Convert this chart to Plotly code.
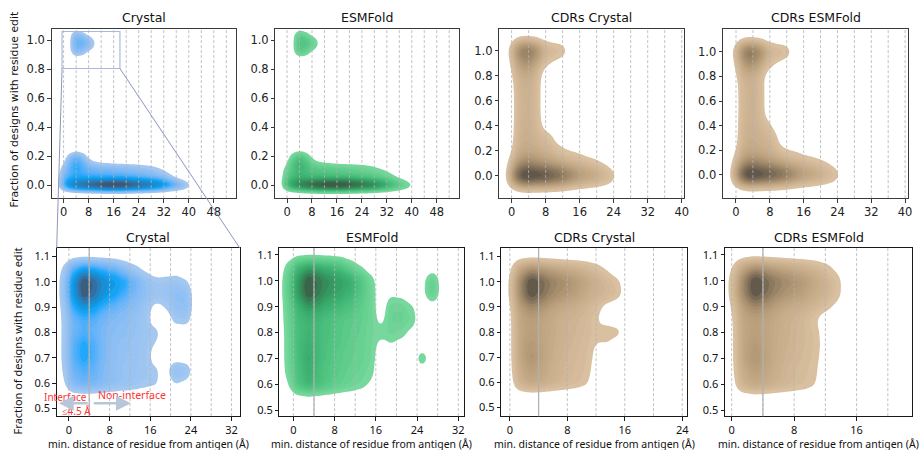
import math
import numpy as np
import plotly.graph_objects as go

# ======================= DATA =======================
# Binned residue counts (rows = fraction of designs with edit, cols = distance to antigen, Å)
top_all_x = [0, 2, 4, 6, 8, 10, 12, 14, 16, 18, 20, 22, 24, 26, 28, 30, 32, 34, 36, 38, 40]
top_all_y = [0.00, 0.04, 0.08, 0.12, 0.16, 0.20, 0.92, 0.96, 1.00, 1.04]
crystal_all_counts = [
    [3, 6, 8, 9, 10, 11, 12, 13, 13, 13, 12, 11, 10, 9, 8, 7, 5.5, 4, 3, 2, 1],
    [2, 3, 3.2, 3, 3, 3, 3, 3, 3, 3, 3, 2.8, 2.6, 2.4, 2.2, 2, 1.6, 1.1, 0.6, 0.2, 0],
    [1.6, 2.4, 2.8, 2.6, 2.4, 2.3, 2.2, 2.2, 2.1, 2.0, 1.9, 1.8, 1.7, 1.6, 1.4, 1.2, 0.9, 0.5, 0, 0, 0],
    [0.9, 2.4, 3.2, 2.6, 2.0, 1.8, 1.7, 1.7, 1.6, 1.5, 1.4, 1.3, 1.2, 1.0, 0.8, 0.6, 0.3, 0, 0, 0, 0],
    [0.2, 2.0, 3.0, 2.2, 0.9, 0.4, 0.2, 0.1, 0, 0, 0, 0, 0, 0, 0, 0, 0, 0, 0, 0, 0],
    [0, 1.0, 2.2, 1.2, 0.2, 0, 0, 0, 0, 0, 0, 0, 0, 0, 0, 0, 0, 0, 0, 0, 0],
    [0, 0.2, 1.8, 1.2, 0.2, 0, 0, 0, 0, 0, 0, 0, 0, 0, 0, 0, 0, 0, 0, 0, 0],
    [0, 0.2, 2.3, 2.1, 1.5, 0.5, 0, 0, 0, 0, 0, 0, 0, 0, 0, 0, 0, 0, 0, 0, 0],
    [0, 0.2, 2.4, 2.2, 1.6, 0.5, 0, 0, 0, 0, 0, 0, 0, 0, 0, 0, 0, 0, 0, 0, 0],
    [0, 0.2, 1.8, 1.0, 0.1, 0, 0, 0, 0, 0, 0, 0, 0, 0, 0, 0, 0, 0, 0, 0, 0],
]
esmfold_all_counts = [
    [3, 6, 8, 9.5, 11, 12, 13, 13.5, 13.5, 13, 12, 11, 10, 9, 8, 6.5, 5, 3.5, 2.5, 1.5, 0.8],
    [2, 3, 3.4, 3.2, 3, 3, 3, 3, 3, 3, 3, 2.8, 2.5, 2.2, 2, 1.8, 1.4, 1, 0.5, 0.2, 0],
    [1.6, 2.4, 3.0, 2.7, 2.4, 2.3, 2.2, 2.1, 2.0, 1.9, 1.8, 1.7, 1.6, 1.5, 1.3, 1.1, 0.8, 0.4, 0, 0, 0],
    [0.9, 2.4, 3.4, 2.8, 2.0, 1.8, 1.7, 1.6, 1.5, 1.4, 1.3, 1.2, 1.1, 0.9, 0.7, 0.4, 0.2, 0, 0, 0, 0],
    [0.2, 2.2, 3.2, 2.3, 0.9, 0.4, 0.2, 0.1, 0, 0, 0, 0, 0, 0, 0, 0, 0, 0, 0, 0, 0],
    [0, 1.1, 2.4, 1.3, 0.2, 0, 0, 0, 0, 0, 0, 0, 0, 0, 0, 0, 0, 0, 0, 0, 0],
    [0, 0.2, 2.0, 1.3, 0.2, 0, 0, 0, 0, 0, 0, 0, 0, 0, 0, 0, 0, 0, 0, 0, 0],
    [0, 0.2, 2.4, 2.1, 1.4, 0.5, 0, 0, 0, 0, 0, 0, 0, 0, 0, 0, 0, 0, 0, 0, 0],
    [0, 0.2, 2.4, 2.2, 1.5, 0.5, 0, 0, 0, 0, 0, 0, 0, 0, 0, 0, 0, 0, 0, 0, 0],
    [0, 0.2, 1.8, 1.0, 0.1, 0, 0, 0, 0, 0, 0, 0, 0, 0, 0, 0, 0, 0, 0, 0, 0],
]

cdr_all_x = [0, 1.5, 3, 4.5, 6, 7.5, 9, 10.5, 12, 13.5, 15, 16.5, 18, 19.5, 21, 22.5, 24]
cdr_all_y = [0.0, 0.1, 0.2, 0.3, 0.4, 0.5, 0.6, 0.7, 0.8, 0.9, 1.0]
cdr_crystal_all_counts = [
    [3, 8, 11, 11, 10, 10, 9, 8, 7, 5.5, 4.4, 3.6, 3, 2.5, 2, 1.4, 0.8],
    [1, 3, 4, 4, 3.5, 3, 2.6, 2.2, 1.8, 1.5, 1.3, 1.1, 0.9, 0.7, 0.4, 0.2, 0],
    [0.3, 1.6, 2.1, 2.0, 1.8, 1.5, 1.3, 0.9, 0.6, 0.4, 0.3, 0.2, 0, 0, 0, 0, 0],
    [0.1, 1.3, 1.8, 1.7, 1.4, 1.1, 0.8, 0.2, 0, 0, 0, 0, 0, 0, 0, 0, 0],
    [0, 1.3, 1.6, 1.6, 1.1, 0.2, 0, 0, 0, 0, 0, 0, 0, 0, 0, 0, 0],
    [0, 1.2, 1.5, 1.5, 1.0, 0, 0, 0, 0, 0, 0, 0, 0, 0, 0, 0, 0],
    [0, 1.2, 1.5, 1.5, 1.0, 0, 0, 0, 0, 0, 0, 0, 0, 0, 0, 0, 0],
    [0, 1.3, 1.6, 1.6, 1.0, 0, 0, 0, 0, 0, 0, 0, 0, 0, 0, 0, 0],
    [0.2, 1.5, 1.8, 1.8, 1.0, 0.1, 0, 0, 0, 0, 0, 0, 0, 0, 0, 0, 0],
    [0.5, 2.4, 3.4, 3.2, 1.9, 0.7, 0.4, 0.2, 0, 0, 0, 0, 0, 0, 0, 0, 0],
    [1.0, 4.4, 6.2, 5.8, 4.2, 2.0, 1.4, 1.2, 1.0, 0.3, 0, 0, 0, 0, 0, 0, 0],
]
cdr_esmfold_all_counts = [
    [3, 8, 11.5, 11, 10, 9.5, 8.5, 7.5, 6.5, 5, 4, 3.3, 2.8, 2.3, 1.8, 1.3, 0.8],
    [1, 3, 4, 4, 3.5, 3, 2.6, 2.1, 1.7, 1.4, 1.2, 1.0, 0.8, 0.6, 0.4, 0.2, 0],
    [0.3, 1.6, 2.1, 2.0, 1.8, 1.6, 1.3, 0.6, 0.4, 0.3, 0.2, 0, 0, 0, 0, 0, 0],
    [0.1, 1.3, 1.8, 1.7, 1.5, 1.4, 0.9, 0.1, 0, 0, 0, 0, 0, 0, 0, 0, 0],
    [0, 1.3, 1.6, 1.6, 1.2, 0.8, 0.2, 0, 0, 0, 0, 0, 0, 0, 0, 0, 0],
    [0, 1.2, 1.5, 1.5, 0.9, 0, 0, 0, 0, 0, 0, 0, 0, 0, 0, 0, 0],
    [0, 1.2, 1.5, 1.5, 0.9, 0, 0, 0, 0, 0, 0, 0, 0, 0, 0, 0, 0],
    [0, 1.2, 1.5, 1.5, 0.9, 0, 0, 0, 0, 0, 0, 0, 0, 0, 0, 0, 0],
    [0.2, 1.4, 1.7, 1.6, 0.8, 0, 0, 0, 0, 0, 0, 0, 0, 0, 0, 0, 0],
    [0.5, 2.4, 3.6, 3.2, 1.9, 0.8, 0.4, 0.2, 0, 0, 0, 0, 0, 0, 0, 0, 0],
    [1.0, 4.4, 6.6, 5.8, 4.2, 2.0, 1.4, 1.2, 1.0, 0.3, 0, 0, 0, 0, 0, 0, 0],
]

hi_y = [0.60, 0.65, 0.70, 0.75, 0.80, 0.85, 0.90, 0.95, 1.00, 1.05]
crystal_hi_x = [-1, 1, 3, 5, 7, 9, 11, 13, 15, 17, 19, 21, 23]
crystal_hi_counts = [
    [0.4, 2.2, 2.6, 2.4, 2, 1.6, 1.4, 1.2, 0.9, 0.8, 0, 0.6, 0.3],
    [0.6, 2.5, 3, 2.5, 1.8, 1.4, 1.2, 1.1, 1, 0.8, 0.2, 1.8, 1.4],
    [0.7, 3, 4, 3, 2, 1.5, 1.3, 1.2, 1, 0.2, 0, 0, 0],
    [0.7, 3, 4, 3, 2, 1.5, 1.4, 1.2, 1, 0.5, 0, 0, 0],
    [0.7, 2.5, 3, 2.5, 2, 1.6, 1.5, 1.3, 1.1, 1.0, 0, 0, 0],
    [0.7, 2.5, 3, 2.8, 2.2, 1.8, 1.6, 1.3, 1, 0, 0, 0.9, 1.0],
    [0.8, 3.5, 5, 4, 3, 2.5, 2, 1.6, 1.2, 0.2, 0.6, 1.4, 1.6],
    [1.0, 5, 11, 8, 5, 4, 3, 2, 1.5, 1.2, 1.2, 1.6, 1.6],
    [1.0, 5, 12, 9, 6, 5, 4, 2.5, 1.5, 0.9, 1.0, 1.2, 0.7],
    [0.7, 3, 4, 3.5, 3, 2.5, 1.5, 0.8, 0.3, 0, 0, 0, 0],
]
esmfold_hi_x = [-1, 1, 3, 5, 7, 9, 11, 13, 15, 17, 19, 21, 23, 25, 27]
esmfold_hi_counts = [
    [0.5, 3.2, 4.4, 3.4, 2.6, 1.9, 1.5, 1.1, 0.6, 0, 0, 0, 0, 0, 0],
    [1.0, 3, 4.5, 3.2, 2.5, 2, 1.6, 1.4, 1.0, 0, 0, 0, 0, 0, 0],
    [1.1, 3.5, 5, 3.5, 2.8, 2.2, 1.8, 1.5, 1.2, 0, 0, 0, 0, 1.6, 0],
    [1.1, 3.5, 4.5, 3.5, 2.8, 2.3, 2, 1.6, 1.2, 0.3, 0.6, 0.3, 0, 0, 0],
    [1.1, 3.5, 4, 3.5, 3, 2.5, 2, 1.7, 1.2, 1.0, 1.3, 1.0, 0.4, 0, 0],
    [1.3, 3.5, 4, 3.5, 3, 2.5, 2.2, 1.8, 1.3, 0.3, 1.5, 1.6, 1.2, 0, 0],
    [1.4, 4, 6, 5, 4, 3.5, 3, 2, 1.3, 0, 1.5, 1.4, 0.8, 0, 0],
    [1.7, 6, 12, 8, 6, 5, 4, 2.5, 1.3, 0, 0.5, 0.3, 0, 0.3, 2.0],
    [1.7, 6, 13, 9, 7, 6, 5, 3, 1.2, 0, 0, 0, 0, 0.3, 2.0],
    [1.1, 4, 5, 4.5, 4, 3.2, 1.6, 0.6, 0, 0, 0, 0, 0, 0, 0],
]
cdr_crystal_hi_x = [0, 1.5, 3, 4.5, 6, 7.5, 9, 10.5, 12, 13.5, 15]
cdr_crystal_hi_counts = [
    [0.1, 2.2, 3, 2.6, 2.1, 1.7, 1.4, 1.0, 0.2, 0, 0],
    [0.2, 2.5, 3.5, 2.8, 2.1, 1.6, 1.4, 1.1, 0.4, 0, 0],
    [0.2, 3, 4.5, 3.2, 2.3, 1.8, 1.5, 1.2, 0.5, 0, 0],
    [0.2, 3, 4, 3, 2.4, 1.9, 1.6, 1.3, 0.6, 0.6, 0],
    [0.2, 3, 3.5, 3, 2.5, 2, 1.7, 1.4, 1.0, 1.5, 1.2],
    [0.2, 3, 3.5, 3, 2.5, 2, 1.8, 1.5, 0.8, 0, 0],
    [0.3, 3.5, 5, 4, 3, 2.5, 2.2, 1.8, 1.2, 0.2, 0],
    [0.5, 5, 11, 7, 5, 4, 3.5, 2.5, 2, 1.8, 1.2],
    [0.5, 5, 12, 8, 6, 5, 4, 3, 2.2, 1.5, 1.0],
    [0.3, 3, 4, 3.5, 3, 2.5, 2.2, 1.8, 1.2, 0.6, 0],
]
cdr_esmfold_hi_x = [0, 1.5, 3, 4.5, 6, 7.5, 9, 10.5, 12, 13.5]
cdr_esmfold_hi_counts = [
    [0.2, 2.2, 3, 2.6, 2.1, 1.7, 1.4, 1.0, 0, 0],
    [0.3, 2.5, 3.5, 2.8, 2.1, 1.6, 1.4, 1.1, 0.1, 0],
    [0.3, 3, 4.5, 3.2, 2.3, 1.8, 1.5, 1.2, 0.3, 0],
    [0.3, 3, 4, 3, 2.4, 1.9, 1.6, 1.3, 0.4, 0],
    [0.3, 3, 3.5, 3, 2.5, 2, 1.6, 1.3, 0.3, 0],
    [0.4, 3, 3.5, 3, 2.5, 2, 1.6, 1.0, 0, 0],
    [0.6, 3.5, 5, 4, 3, 2.5, 2.2, 1.8, 1.2, 0.5],
    [0.9, 5, 11, 7, 5, 4, 3.5, 2.5, 2, 1.2],
    [0.9, 5, 12, 8, 6, 5, 4, 3, 2, 1.2],
    [0.6, 3, 4, 3.5, 3, 2.5, 2.2, 1.8, 1.2, 0.5],
]

panel_titles = ["Crystal", "ESMFold", "CDRs Crystal", "CDRs ESMFold",
                "Crystal", "ESMFold", "CDRs Crystal", "CDRs ESMFold"]
kde_bw_x = [1.2, 1.2, 0.9, 0.9, 1.0, 1.0, 0.8, 0.8]
kde_bw_y = [0.027, 0.027, 0.058, 0.058, 0.028, 0.028, 0.028, 0.028]
seed_crystal, seed_esmfold, seed_cdr = "#12a0f0", "#3cb371", "#d2b48c"

xticks_top_wide = [0, 8, 16, 24, 32, 40, 48]
xticks_top_cdr = [0, 8, 16, 24, 32, 40]
xticks_bot_wide = [0, 8, 16, 24, 32]
xticks_bot_cdr = [0, 8, 16, 24]
xticks_bot_cdr2 = [0, 8, 16]
yticks_top = [0.0, 0.2, 0.4, 0.6, 0.8, 1.0]
yticks_bot = [0.5, 0.6, 0.7, 0.8, 0.9, 1.0, 1.1]
ylabel = "Fraction of designs with residue edit"
xlabel = "min. distance of residue from antigen (Å)"
N_LEVELS = 20
THRESH = 0.05

# ======================= HUSL (seaborn colormap from colour) =======================
_M = [[3.2406, -1.5372, -0.4986], [-0.9689, 1.8758, 0.0415], [0.0557, -0.2040, 1.0570]]
_M_INV = [[0.4124, 0.3576, 0.1805], [0.2126, 0.7152, 0.0722], [0.0193, 0.1192, 0.9505]]
_REF_U, _REF_V, _LAB_E, _LAB_K = 0.19784, 0.46834, 0.008856, 903.3


def _max_chroma(L, H):
    hrad = math.radians(H)
    sinH, cosH = math.sin(hrad), math.cos(hrad)
    sub1 = (L + 16) ** 3 / 1560896.0
    sub2 = sub1 if sub1 > _LAB_E else L / _LAB_K
    result = float("inf")
    for m1, m2, m3 in _M:
        top = (0.99915 * m1 + 1.05122 * m2 + 1.14460 * m3) * sub2
        rbottom = 0.86330 * m3 - 0.17266 * m2
        lbottom = 0.12949 * m3 - 0.38848 * m1
        bottom = (rbottom * sinH + lbottom * cosH) * sub2
        for t in (0.0, 1.0):
            C = L * (top - 1.05122 * t) / (bottom + 0.17266 * sinH * t)
            if 0.0 < C < result:
                result = C
    return result


def husl_to_rgb(h, s, l):
    if l > 99.9999999:
        return [1.0, 1.0, 1.0]
    if l < 1e-8:
        return [0.0, 0.0, 0.0]
    C = _max_chroma(l, h) / 100.0 * s
    hr = math.radians(h)
    U, V = math.cos(hr) * C, math.sin(hr) * C
    t = (l + 16.0) / 116.0
    Y = t ** 3 if t ** 3 > _LAB_E else (116.0 * t - 16.0) / _LAB_K
    varU = U / (13.0 * l) + _REF_U
    varV = V / (13.0 * l) + _REF_V
    X = 0.0 - (9.0 * Y * varU) / ((varU - 4.0) * varV - varU * varV)
    Z = (9.0 * Y - 15.0 * varV * Y - varV * X) / (3.0 * varV)
    out = []
    for row in _M:
        c = row[0] * X + row[1] * Y + row[2] * Z
        c = 12.92 * c if c <= 0.0031308 else 1.055 * c ** (1 / 2.4) - 0.055
        out.append(c)
    return out


def rgb_to_husl(r, g, b):
    lin = [c / 12.92 if c <= 0.04045 else ((c + 0.055) / 1.055) ** 2.4 for c in (r, g, b)]
    X, Y, Z = [sum(row[i] * lin[i] for i in range(3)) for row in _M_INV]
    den = X + 15 * Y + 3 * Z
    varU, varV = 4 * X / den, 9 * Y / den
    fy = Y ** (1 / 3) if Y > _LAB_E else 7.787 * Y + 16 / 116
    L = 116 * fy - 16
    U, V = 13 * L * (varU - _REF_U), 13 * L * (varV - _REF_V)
    C = math.hypot(U, V)
    H = math.degrees(math.atan2(V, U)) % 360
    S = C / _max_chroma(L, H) * 100
    return H, S, L


def seaborn_ramp(seed):
    r, g, b = [int(seed[i:i + 2], 16) / 255 for i in (1, 3, 5)]
    h, s, _ = rgb_to_husl(r, g, b)
    xx = np.linspace(-1, 1, int(1.15 * 256))[:256]
    ls = np.linspace(35, 80, 256)
    cols = np.clip([husl_to_rgb(h, s * math.cos(x), l) for x, l in zip(xx, ls)], 0, 1)
    return cols[::-1]


def ramp_color(cols, t):
    i = int(np.clip(math.floor(t * 256), 0, 255))
    r, g, b = (cols[i] * 255).round().astype(int)
    return f"rgb({r},{g},{b})"


# ======================= KDE =======================
def kde_density(xs, ys, counts, bwx, bwy, gx, gy):
    px, py, pw = [], [], []
    for yv, row in zip(ys, counts):
        for xv, c in zip(xs, row):
            if c > 0:
                px.append(xv); py.append(yv); pw.append(c)
    px, py, pw = np.array(px, float), np.array(py, float), np.array(pw, float)
    kx = np.exp(-0.5 * ((gx[None, :] - px[:, None]) / bwx) ** 2)
    ky = np.exp(-0.5 * ((gy[None, :] - py[:, None]) / bwy) ** 2)
    return (ky * pw[:, None]).T @ kx


# ======================= LAYOUT GEOMETRY =======================
W, H = 922, 450


def xdom(l, r):
    return [l / W, r / W]


def ydom(t, b):
    return [1 - b / H, 1 - t / H]


panels = [
    dict(xs=top_all_x, ys=top_all_y, counts=crystal_all_counts, seed=seed_crystal,
         xr=[-3.8, 55], yr=[-0.09, 1.08], xt=xticks_top_wide, yt=yticks_top,
         grid=list(range(0, 53, 4)), dx=xdom(52, 237), dy=ydom(28, 198), top=True),
    dict(xs=top_all_x, ys=top_all_y, counts=esmfold_all_counts, seed=seed_esmfold,
         xr=[-3.7, 55.3], yr=[-0.09, 1.08], xt=xticks_top_wide, yt=yticks_top,
         grid=list(range(0, 53, 4)), dx=xdom(277, 462), dy=ydom(28, 198), top=True),
    dict(xs=cdr_all_x, ys=cdr_all_y, counts=cdr_crystal_all_counts, seed=seed_cdr,
         xr=[-2.9, 40.6], yr=[-0.177, 1.175], xt=xticks_top_cdr, yt=yticks_top,
         grid=list(range(0, 41, 4)), dx=xdom(502, 688), dy=ydom(28, 198), top=True),
    dict(xs=cdr_all_x, ys=cdr_all_y, counts=cdr_esmfold_all_counts, seed=seed_cdr,
         xr=[-3.06, 40.7], yr=[-0.19, 1.187], xt=xticks_top_cdr, yt=yticks_top,
         grid=list(range(0, 41, 4)), dx=xdom(727, 913), dy=ydom(28, 198), top=True),
    dict(xs=crystal_hi_x, ys=hi_y, counts=crystal_hi_counts, seed=seed_crystal,
         xr=[-2.4, 33.6], yr=[0.47, 1.134], xt=xticks_bot_wide, yt=yticks_bot,
         grid=list(range(0, 33, 4)), dx=xdom(57, 241), dy=ydom(248, 417), top=False),
    dict(xs=esmfold_hi_x, ys=hi_y, counts=esmfold_hi_counts, seed=seed_esmfold,
         xr=[-2.7, 33.2], yr=[0.477, 1.127], xt=xticks_bot_wide, yt=yticks_bot,
         grid=list(range(0, 33, 4)), dx=xdom(281, 467), dy=ydom(248, 417), top=False),
    dict(xs=cdr_crystal_hi_x, ys=hi_y, counts=cdr_crystal_hi_counts, seed=seed_cdr,
         xr=[-1.2, 24.7], yr=[0.466, 1.134], xt=xticks_bot_cdr, yt=yticks_bot,
         grid=list(range(0, 25, 4)), dx=xdom(504, 691), dy=ydom(248, 417), top=False),
    dict(xs=cdr_esmfold_hi_x, ys=hi_y, counts=cdr_esmfold_hi_counts, seed=seed_cdr,
         xr=[-0.85, 23.1], yr=[0.477, 1.127], xt=xticks_bot_cdr2, yt=yticks_bot,
         grid=list(range(0, 21, 4)), dx=xdom(729, 917), dy=ydom(248, 417), top=False),
]

fig = go.Figure()
shapes, annotations = [], []
layout_axes = {}

for i, p in enumerate(panels):
    n = i + 1
    xa = "x" if n == 1 else f"x{n}"
    ya = "y" if n == 1 else f"y{n}"
    gx = np.linspace(p["xr"][0], p["xr"][1], 220)
    gy = np.linspace(p["yr"][0], p["yr"][1], 220)
    dens = kde_density(p["xs"], p["ys"], p["counts"], kde_bw_x[i], kde_bw_y[i], gx, gy)

    flat = dens.ravel()
    order = np.argsort(flat)
    cum = np.cumsum(flat[order])
    cum /= cum[-1]
    zq = np.empty_like(flat)
    zq[order] = cum
    zq = zq.reshape(dens.shape)

    desc = np.sort(flat)[::-1]
    ndesc = np.cumsum(desc) / desc.sum()
    qs = np.linspace(THRESH, 1, N_LEVELS)
    idx = np.clip(np.searchsorted(ndesc, 1 - qs), 0, len(desc) - 1)
    dl = desc[idx]

    cols = seaborn_ramp(p["seed"])
    nb = N_LEVELS - 1
    cscale = [[0.0, "rgba(255,255,255,0)"]]
    for j in range(nb):
        mid = 0.5 * (dl[j] + dl[j + 1])
        t = (mid - dl[0]) / (dl[-1] - dl[0])
        cscale.append([(j + 1) / nb, ramp_color(cols, t)])
    size = (1 - THRESH) / nb
    fig.add_trace(go.Contour(
        x=gx, y=gy, z=np.round(zq, 5), xaxis=xa, yaxis=ya,
        contours=dict(start=THRESH, end=THRESH + (nb - 1) * size + size / 2, size=size,
                      coloring="fill", showlines=False),
        line=dict(width=0), colorscale=cscale, showscale=False, hoverinfo="skip"))

    top = p["top"]
    tickfont = dict(family="DejaVu Sans", size=11.5, color="#222") if top else \
        dict(family="Noto Sans", size=11, color="#111")
    frame = "#3a3a3a" if top else "#1a1a1a"
    layout_axes["xaxis" if n == 1 else f"xaxis{n}"] = dict(
        domain=p["dx"], range=p["xr"], anchor=ya, showgrid=False, zeroline=False,
        showline=True, mirror=True, linecolor=frame, linewidth=1,
        ticks="outside", ticklen=3.5, tickcolor=frame, tickwidth=1,
        tickvals=p["xt"], ticktext=[str(v) for v in p["xt"]], tickfont=tickfont)
    layout_axes["yaxis" if n == 1 else f"yaxis{n}"] = dict(
        domain=p["dy"], range=p["yr"], anchor=xa, showgrid=False, zeroline=False,
        showline=True, mirror=True, linecolor=frame, linewidth=1,
        ticks="outside", ticklen=3.5, tickcolor=frame, tickwidth=1,
        tickvals=p["yt"], ticktext=[f"{v:.1f}" for v in p["yt"]], tickfont=tickfont)

    for gxv in p["grid"]:
        shapes.append(dict(type="line", xref=xa, yref=f"{ya} domain", x0=gxv, x1=gxv, y0=0, y1=1,
                           line=dict(color="#b3b3b3", width=0.8, dash="3px,2px"), layer="above"))
    if not top:
        shapes.append(dict(type="line", xref=xa, yref=f"{ya} domain", x0=4, x1=4, y0=0, y1=1,
                           line=dict(color="#b0b0b0", width=1.2), layer="above"))

    cx = 0.5 * (p["dx"][0] + p["dx"][1])
    annotations.append(dict(text=panel_titles[i], xref="paper", yref="paper", x=cx,
                            y=(1 - 17 / H) if top else (1 - 238 / H), xanchor="center",
                            yanchor="middle", showarrow=False,
                            font=dict(family="DejaVu Sans", size=12.5, color="#111")))
    if not top:
        annotations.append(dict(text=xlabel, xref="paper", yref="paper", x=cx, y=1 - 445 / H,
                                xanchor="center", yanchor="middle", showarrow=False,
                                font=dict(family="Noto Sans", size=10.5, color="#111")))

annotations.append(dict(text=ylabel, xref="paper", yref="paper", x=15 / W, y=1 - 109 / H,
                        textangle=-90, showarrow=False, xanchor="center", yanchor="middle",
                        font=dict(family="DejaVu Sans", size=10.8, color="#111")))
annotations.append(dict(text=ylabel, xref="paper", yref="paper", x=18 / W, y=1 - 341 / H,
                        textangle=-90, showarrow=False, xanchor="center", yanchor="middle",
                        font=dict(family="Noto Sans", size=11, color="#111")))

# interface annotations (panel 5)
red = "#ff3333"
annotations += [
    dict(text="Interface", xref="x5", yref="y5", x=-0.7, y=0.547, showarrow=False,
         font=dict(family="Noto Sans", size=10, color=red)),
    dict(text="Non-interface", xref="x5", yref="y5", x=12.4, y=0.555, showarrow=False,
         font=dict(family="Noto Sans", size=10.5, color=red)),
    dict(text="≤4.5 Å", xref="x5", yref="y5", x=1.45, y=0.489, showarrow=False,
         font=dict(family="Noto Sans", size=10, color=red)),
    dict(text="", xref="x5", yref="y5", x=-2.0, y=0.521, ax=4.0, ay=0.521, axref="x5", ayref="y5",
         showarrow=True, arrowhead=2, arrowsize=1.2, arrowwidth=2.5, arrowcolor="#b8c6da"),
    dict(text="", xref="x5", yref="y5", x=12.2, y=0.521, ax=4.6, ay=0.521, axref="x5", ayref="y5",
         showarrow=True, arrowhead=2, arrowsize=1.2, arrowwidth=2.5, arrowcolor="#b8c6da"),
]

# zoom indicator (panel 1 -> panel 5)
rect = dict(x0=-0.5, x1=18.0, y0=0.806, y1=1.062)
shapes.append(dict(type="rect", xref="x", yref="y", **rect,
                   line=dict(color="#a9b8dc", width=1.2), fillcolor="rgba(0,0,0,0)", layer="above"))


def to_paper(p, x, y):
    fx = (x - p["xr"][0]) / (p["xr"][1] - p["xr"][0])
    fy = (y - p["yr"][0]) / (p["yr"][1] - p["yr"][0])
    return (p["dx"][0] + fx * (p["dx"][1] - p["dx"][0]),
            p["dy"][0] + fy * (p["dy"][1] - p["dy"][0]))


p1, p5 = panels[0], panels[4]
a = to_paper(p1, rect["x0"], rect["y0"])
b = to_paper(p1, rect["x1"], rect["y0"])
shapes.append(dict(type="line", xref="paper", yref="paper", x0=a[0], y0=a[1],
                   x1=p5["dx"][0], y1=p5["dy"][1], line=dict(color="#8d97bd", width=1), layer="above"))
shapes.append(dict(type="line", xref="paper", yref="paper", x0=b[0], y0=b[1],
                   x1=p5["dx"][1], y1=p5["dy"][1], line=dict(color="#8d97bd", width=1), layer="above"))

fig.update_layout(width=W, height=H, margin=dict(l=0, r=0, t=0, b=0),
                  paper_bgcolor="white", plot_bgcolor="white", showlegend=False,
                  shapes=shapes, annotations=annotations, **layout_axes)
fig.write_html("out.html", config={"displayModeBar": False},
               post_script="document.body.style.margin='0px';")
